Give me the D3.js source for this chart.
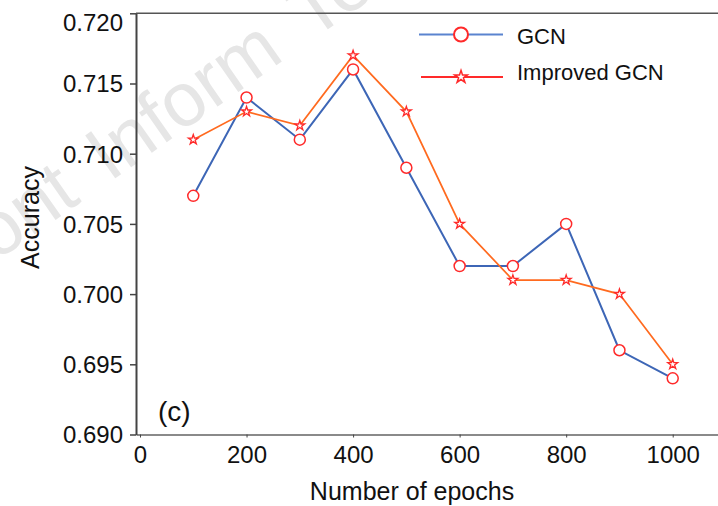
<!DOCTYPE html>
<html lang="en">
<head>
<meta charset="UTF-8"/>
<title>GCN accuracy</title>
<script src="https://cdn.jsdelivr.net/npm/d3@7/dist/d3.min.js"></script>
<style>
  body { margin: 0; background: #fff; }
  svg { display: block; font-family: "Liberation Sans", Arial, sans-serif; }
</style>
</head>
<body>
<svg width="718" height="506"></svg>
<script>
const epochs = [100, 200, 300, 400, 500, 600, 700, 800, 900, 1000]
const gcn = [0.707, 0.714, 0.711, 0.716, 0.709, 0.702, 0.702, 0.705, 0.696, 0.694]
const improved = [0.711, 0.713, 0.712, 0.717, 0.713, 0.705, 0.701, 0.701, 0.700, 0.695]
const xTicks = [0, 200, 400, 600, 800, 1000]
const yTicks = [0.690, 0.695, 0.700, 0.705, 0.710, 0.715, 0.720]

const svg = d3.select('svg')

const plotLeft = 136, plotTop = 13.3, plotBottom = 434.5, plotRight = 718

const x = d3.scaleLinear().domain([-7.5, 1085]).range([plotLeft, plotRight])
const y = d3.scaleLinear().domain([0.690, 0.720]).range([plotBottom, plotTop])

// watermark
svg.append('text')
  .attr('transform', 'translate(-63, 303) rotate(-35)')
  .attr('font-size', 76)
  .attr('word-spacing', 12)
  .attr('fill', '#e6e6e6')
  .text('Front Inform Te')

// frame line on top
svg.append('line')
  .attr('x1', plotLeft).attr('x2', plotRight).attr('y1', plotTop).attr('y2', plotTop)
  .attr('stroke', '#555').attr('stroke-width', 1.5)

const xAxis = svg.append('g')
  .attr('transform', `translate(0, ${plotBottom})`)
  .call(d3.axisBottom(x).tickValues(xTicks).tickSize(3).tickPadding(8)
    .tickFormat(d3.format('d')).tickSizeOuter(0))
xAxis.select('.domain').attr('stroke', '#8a8a8a').attr('stroke-width', 2)
xAxis.selectAll('.tick line').attr('stroke', '#444')
xAxis.selectAll('text').attr('font-size', 24).attr('fill', '#111')

const yAxis = svg.append('g')
  .attr('transform', `translate(${plotLeft}, 0)`)
  .call(d3.axisLeft(y).tickValues(yTicks).tickSize(6).tickPadding(7)
    .tickFormat(d3.format('.3f')).tickSizeOuter(0))
yAxis.select('.domain').attr('stroke', '#444').attr('stroke-width', 2)
yAxis.selectAll('.tick line').attr('stroke', '#444').attr('stroke-width', 1.5)
yAxis.selectAll('text').attr('font-size', 24).attr('fill', '#111')
  .attr('dy', d => d === 0.720 ? '0.7em' : '0.35em')

// lines
const line = d3.line().x(d => x(d[0])).y(d => y(d[1]))

svg.append('path')
  .datum(d3.zip(epochs, gcn))
  .attr('d', line)
  .attr('fill', 'none')
  .attr('stroke', '#3d66b6')
  .attr('stroke-width', 2)

svg.append('path')
  .datum(d3.zip(epochs, improved))
  .attr('d', line)
  .attr('fill', 'none')
  .attr('stroke', '#ff6a1f')
  .attr('stroke-width', 1.7)

svg.append('g').selectAll('circle')
  .data(d3.zip(epochs, gcn))
  .join('circle')
  .attr('cx', d => x(d[0]))
  .attr('cy', d => y(d[1]))
  .attr('r', 5.5)
  .attr('fill', '#fff')
  .attr('stroke', '#ff2a2a')
  .attr('stroke-width', 1.5)

const star = d3.symbol().type(d3.symbolStar).size(30)
svg.append('g').selectAll('path')
  .data(d3.zip(epochs, improved))
  .join('path')
  .attr('transform', d => `translate(${x(d[0])}, ${y(d[1])})`)
  .attr('d', star)
  .attr('fill', '#fff')
  .attr('stroke', '#ff2a2a')
  .attr('stroke-width', 1.3)

// legend
const legend = svg.append('g')
legend.append('line')
  .attr('x1', 419).attr('x2', 503).attr('y1', 34.5).attr('y2', 34.5)
  .attr('stroke', '#5a84cf').attr('stroke-width', 2)
legend.append('circle')
  .attr('cx', 461).attr('cy', 34.5).attr('r', 7)
  .attr('fill', '#fff').attr('stroke', '#ff2a2a').attr('stroke-width', 2)
legend.append('text')
  .attr('x', 517).attr('y', 44).attr('font-size', 22).attr('fill', '#111')
  .text('GCN')

legend.append('line')
  .attr('x1', 421).attr('x2', 503).attr('y1', 77).attr('y2', 77)
  .attr('stroke', '#ff2a2a').attr('stroke-width', 2)
legend.append('path')
  .attr('transform', 'translate(461, 77)')
  .attr('d', d3.symbol().type(d3.symbolStar).size(50))
  .attr('fill', '#fff').attr('stroke', '#ff2a2a').attr('stroke-width', 1.5)
legend.append('text')
  .attr('x', 517).attr('y', 80).attr('font-size', 22).attr('fill', '#111')
  .text('Improved GCN')

// panel label and axis titles
svg.append('text')
  .attr('x', 158).attr('y', 421).attr('font-size', 28).attr('fill', '#111')
  .text('(c)')

svg.append('text')
  .attr('x', 412).attr('y', 500)
  .attr('text-anchor', 'middle')
  .attr('font-size', 25).attr('fill', '#111')
  .text('Number of epochs')

svg.append('text')
  .attr('transform', 'translate(39, 217.5) rotate(-90)')
  .attr('text-anchor', 'middle')
  .attr('font-size', 25).attr('fill', '#111')
  .text('Accuracy')
</script>
</body>
</html>
